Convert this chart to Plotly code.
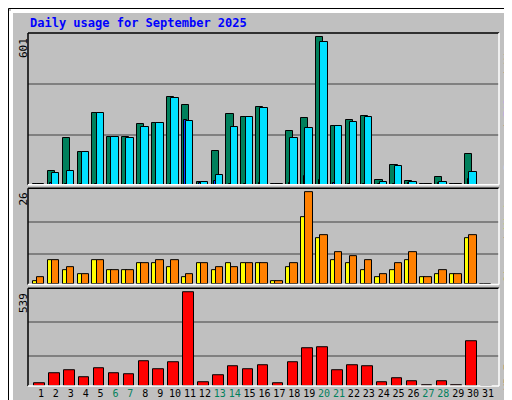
import plotly.graph_objects as go

days = list(range(1, 32))
hits = [3, 58, 189, 132, 291, 193, 193, 246, 250, 356, 324, 11, 136, 287, 275, 315,
        4, 218, 271, 601, 238, 262, 279, 18, 79, 14, 4, 30, 4, 124, 0]
files = [2, 48, 58, 132, 291, 193, 189, 234, 250, 352, 258, 11, 38, 234, 275, 311,
         4, 189, 230, 581, 238, 254, 275, 11, 75, 11, 4, 11, 4, 54, 0]
pages = [2, 6, 3, 3, 3, 3, 3, 4, 3, 4, 265, 8, 14, 5, 3, 6,
         3, 6, 34, 18, 6, 5, 4, 4, 4, 8, 2, 8, 2, 22, 0]
visits = [1, 7, 4, 3, 7, 4, 4, 6, 6, 5, 2, 6, 4, 6, 6, 6,
          1, 5, 19, 13, 7, 6, 4, 2, 4, 7, 2, 3, 3, 13, 0]
sites = [2, 7, 5, 3, 7, 4, 4, 6, 7, 7, 3, 6, 5, 5, 6, 6,
         1, 6, 26, 14, 9, 8, 7, 3, 6, 9, 2, 4, 3, 14, 0]
kbytes = [14, 73, 90, 49, 102, 73, 67, 144, 96, 138, 539, 20, 61, 114, 96, 120,
          14, 138, 220, 226, 90, 120, 114, 20, 43, 26, 3, 26, 3, 256, 0]
weekend = [6, 7, 13, 14, 20, 21, 27, 28]

GREEN = "#00805C"
CYAN = "#00E0FF"
BLUE = "#0040FF"
YELLOW = "#FFFF00"
ORANGE = "#FF8000"
RED = "#FF0000"
BG = "#C0C0C0"
FONT = "DejaVu Sans Mono"

line = dict(color="black", width=1)
fig = go.Figure()


def bar(y, color, off, w, xa, ya):
    fig.add_trace(go.Bar(x=days, y=y, marker=dict(color=color, line=line),
                         offset=off, width=w, xaxis=xa, yaxis=ya, showlegend=False))


bar(hits, GREEN, -0.55, 0.48, "x3", "y3")
bar(pages, BLUE, -0.37, 0.14, "x3", "y3")
bar(files, CYAN, -0.27, 0.5, "x3", "y3")
bar(visits, YELLOW, -0.55, 0.31, "x2", "y2")
bar(sites, ORANGE, -0.27, 0.5, "x2", "y2")
bar(kbytes, RED, -0.45, 0.7, "x", "y")

xr = [0.128, 31.74]
ticktext = [f"<span style='color:{GREEN}'>{d}</span>" if d in weekend else str(d) for d in days]
common_x = dict(range=xr, showgrid=False, zeroline=False, fixedrange=True, automargin=False)
common_y = dict(showticklabels=False, ticks="", zeroline=False, showgrid=True, automargin=False,
                gridcolor="#808080", gridwidth=1.5, tickmode="array")

fig.update_layout(
    width=512, height=400, paper_bgcolor=BG, plot_bgcolor=BG,
    margin=dict(l=20, r=21, t=25, b=22, autoexpand=False), barmode="overlay", bargap=0,
    font=dict(family=FONT, size=11, color="black"),
    xaxis=dict(common_x, anchor="y", tickmode="array", tickvals=days, ticktext=ticktext,
               ticks="", tickangle=0, tickfont=dict(size=10, color="black")),
    xaxis2=dict(common_x, anchor="y2", matches="x", showticklabels=False),
    xaxis3=dict(common_x, anchor="y3", matches="x", showticklabels=False),
    yaxis=dict(common_y, domain=[0, 0.277], range=[0, 564], tickvals=[173, 368]),
    yaxis2=dict(common_y, domain=[0.2875, 0.5605], range=[0, 27.2], tickvals=[8.5, 17.7]),
    yaxis3=dict(common_y, domain=[0.570, 1], range=[0, 618.5], tickvals=[201, 409]),
)

# panel frames (inset: black top/left, white bottom/right)
for y0, y1 in [(0, 0.277), (0.2875, 0.5605), (0.570, 1)]:
    fig.add_shape(type="line", xref="paper", yref="paper", x0=0, x1=1, y0=y1, y1=y1, line=dict(color="black", width=1.5))
    fig.add_shape(type="line", xref="paper", yref="paper", x0=0, x1=0, y0=y0, y1=y1, line=dict(color="black", width=1.5))
    fig.add_shape(type="line", xref="paper", yref="paper", x0=0, x1=1, y0=y0, y1=y0, line=dict(color="white", width=1.5))
    fig.add_shape(type="line", xref="paper", yref="paper", x0=1, x1=1, y0=y0, y1=y1, line=dict(color="white", width=1.5))

# outer bevel
px_x = lambda p: (p - 20) / 471
px_y = lambda p: (378 - p) / 353
fig.add_shape(type="rect", xref="paper", yref="paper", x0=px_x(0.5), x1=px_x(511.5), y0=px_y(399.5), y1=px_y(0.5),
              line=dict(color="black", width=1))
fig.add_shape(type="line", xref="paper", yref="paper", x0=px_x(3), x1=px_x(508), y0=px_y(3), y1=px_y(3), line=dict(color="white", width=4))
fig.add_shape(type="line", xref="paper", yref="paper", x0=px_x(3), x1=px_x(3), y0=px_y(3), y1=px_y(396), line=dict(color="white", width=4))
fig.add_shape(type="line", xref="paper", yref="paper", x0=px_x(3), x1=px_x(509), y0=px_y(396), y1=px_y(396), line=dict(color="#808080", width=4))
fig.add_shape(type="line", xref="paper", yref="paper", x0=px_x(509), x1=px_x(509), y0=px_y(3), y1=px_y(396), line=dict(color="#808080", width=4))

fig.add_annotation(text="<b>Daily usage for September 2025</b>", xref="paper", yref="paper",
                   x=0, y=px_y(15), xanchor="left", yanchor="middle", showarrow=False,
                   font=dict(size=12, color="#0000FF", family=FONT))

# left max labels
for txt, ytop in [("601", 28), ("26", 183), ("539", 283)]:
    fig.add_annotation(text=txt, xref="paper", yref="paper", x=px_x(15), y=px_y(ytop),
                       xanchor="center", yanchor="top", textangle=-90, showarrow=False,
                       font=dict(size=11, color="black"))

# right legends
slash = "<span style='color:black'> / </span>"
right = [
    (f"<span style='color:{CYAN}'>Pages</span>{slash}<span style='color:{BLUE}'>Files</span>{slash}<span style='color:{GREEN}'>Hits</span>", 28),
    (f"<span style='color:{ORANGE}'>Sites</span>{slash}<span style='color:{YELLOW}'>Visits</span>", 180),
    (f"<span style='color:{RED}'>KB F</span>", 354),
]
for txt, ytop in right:
    fig.add_annotation(text=txt, xref="paper", yref="paper", x=px_x(500), y=px_y(ytop),
                       xanchor="center", yanchor="top", textangle=-90, showarrow=False,
                       font=dict(size=11))

fig.write_html("out.html")
